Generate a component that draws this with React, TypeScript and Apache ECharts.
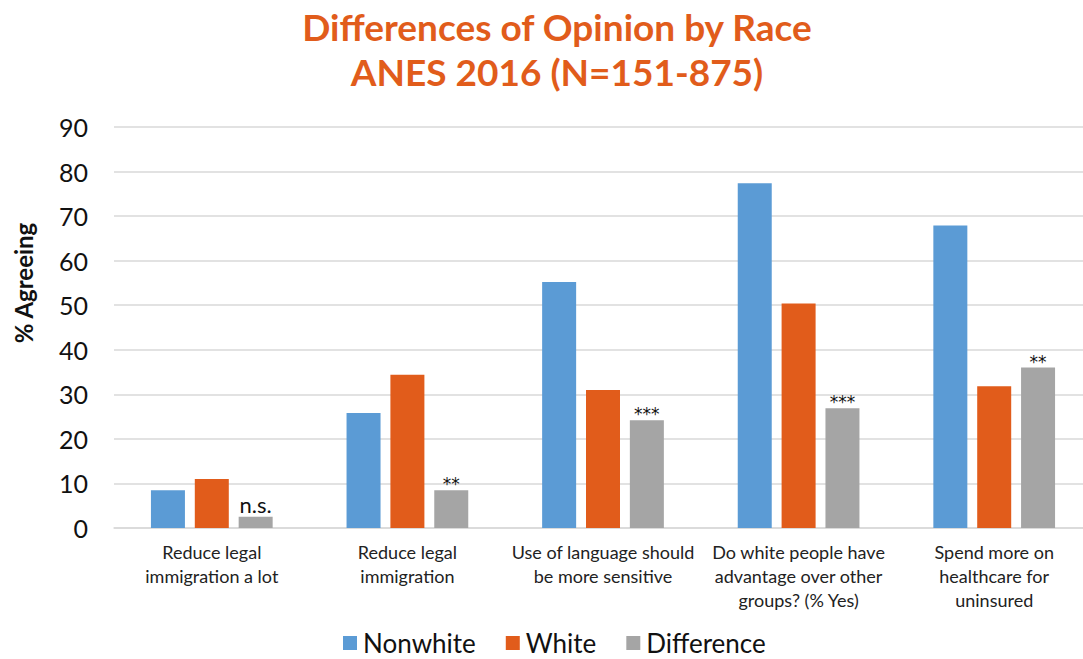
import React, { useEffect, useRef } from "react";
import * as echarts from "echarts";

const categories = [
  "Reduce legal\nimmigration a lot",
  "Reduce legal\nimmigration",
  "Use of language should\nbe more sensitive",
  "Do white people have\nadvantage over other\ngroups? (% Yes)",
  "Spend more on\nhealthcare for\nuninsured",
];
const nonwhite = [8.5, 25.8, 55.2, 77.4, 67.9];
const white = [11.0, 34.4, 31.0, 50.4, 31.8];
const difference = [2.5, 8.5, 24.2, 26.9, 36.0];
const significance = ["n.s.", "**", "***", "***", "**"];
const yTicks = { min: 0, max: 90, interval: 10 };

const FONT = "Lato, 'Open Sans', sans-serif";

export default function App() {
  const ref = useRef<HTMLDivElement>(null);
  useEffect(() => {
    if (!ref.current) return;
    const chart = echarts.init(ref.current, undefined, { renderer: "svg" });
    chart.setOption({
      animation: false,
      backgroundColor: "#ffffff",
      textStyle: { fontFamily: FONT },
      title: {
        text: "Differences of Opinion by Race\nANES 2016 (N=151-875)",
        left: 552,
        textAlign: "center",
        top: -1,
        textStyle: {
          fontFamily: FONT,
          fontSize: 37,
          fontWeight: "bold",
          color: "#E15C1B",
          lineHeight: 45,
        },
      },
      graphic: [
        {
          type: "text",
          x: 23,
          y: 283,
          rotation: Math.PI / 2,
          style: {
            text: "% Agreeing",
            fontFamily: FONT,
            fontSize: 24,
            fontWeight: "bold",
            fill: "#111",
            align: "center",
            verticalAlign: "middle",
          },
        },
      ],
      legend: {
        top: 630,
        left: 343,
        padding: 0,
        itemWidth: 14,
        itemHeight: 14,
        itemGap: 30,
        icon: "rect",
        textStyle: { fontFamily: FONT, fontSize: 26, lineHeight: 26, color: "#111", padding: [0, 0, 0, 1] },
        data: ["Nonwhite", "White", "Difference"],
      },
      grid: { left: 114, right: 0, top: 127, bottom: 131, containLabel: false },
      xAxis: {
        type: "category",
        data: categories,
        axisLine: { lineStyle: { color: "#D9D9D9", width: 1.5 } },
        axisTick: { show: false },
        axisLabel: {
          interval: 0,
          margin: 12,
          fontFamily: FONT,
          fontSize: 18,
          lineHeight: 24,
          color: "#222",
        },
      },
      yAxis: {
        type: "value",
        min: yTicks.min,
        max: yTicks.max,
        interval: yTicks.interval,
        axisLine: { show: false },
        axisTick: { show: false },
        axisLabel: { fontFamily: FONT, fontSize: 25, color: "#111", margin: 26 },
        splitLine: { lineStyle: { color: "#D9D9D9", width: 1.5 } },
      },
      series: [
        {
          name: "Nonwhite",
          type: "bar",
          data: nonwhite,
          barWidth: 34,
          barGap: "29%",
          itemStyle: { color: "#5B9BD5" },
        },
        {
          name: "White",
          type: "bar",
          data: white,
          barWidth: 34,
          barGap: "29%",
          itemStyle: { color: "#E15C1B" },
        },
        {
          name: "Difference",
          type: "bar",
          data: difference,
          barWidth: 34,
          barGap: "29%",
          itemStyle: { color: "#A5A5A5" },
          label: {
            show: true,
            position: "top",
            distance: 1,
            color: "#111",
            formatter: (p: any) => {
              const s = significance[p.dataIndex];
              return s.indexOf("*") >= 0 ? "{ast|" + s + "}" : "{ns|" + s + "}";
            },
            rich: {
              ast: { fontFamily: "'DejaVu Sans', sans-serif", fontSize: 17, color: "#111", lineHeight: 14, padding: [0, 0, -4, 0] },
              ns: { fontFamily: FONT, fontSize: 22, color: "#111", lineHeight: 22 },
            },
          },
        },
      ],
    });
    return () => chart.dispose();
  }, []);
  return (
    <div
      ref={ref}
      style={{ position: "fixed", left: 0, top: 0, width: 1092, height: 659 }}
    />
  );
}
